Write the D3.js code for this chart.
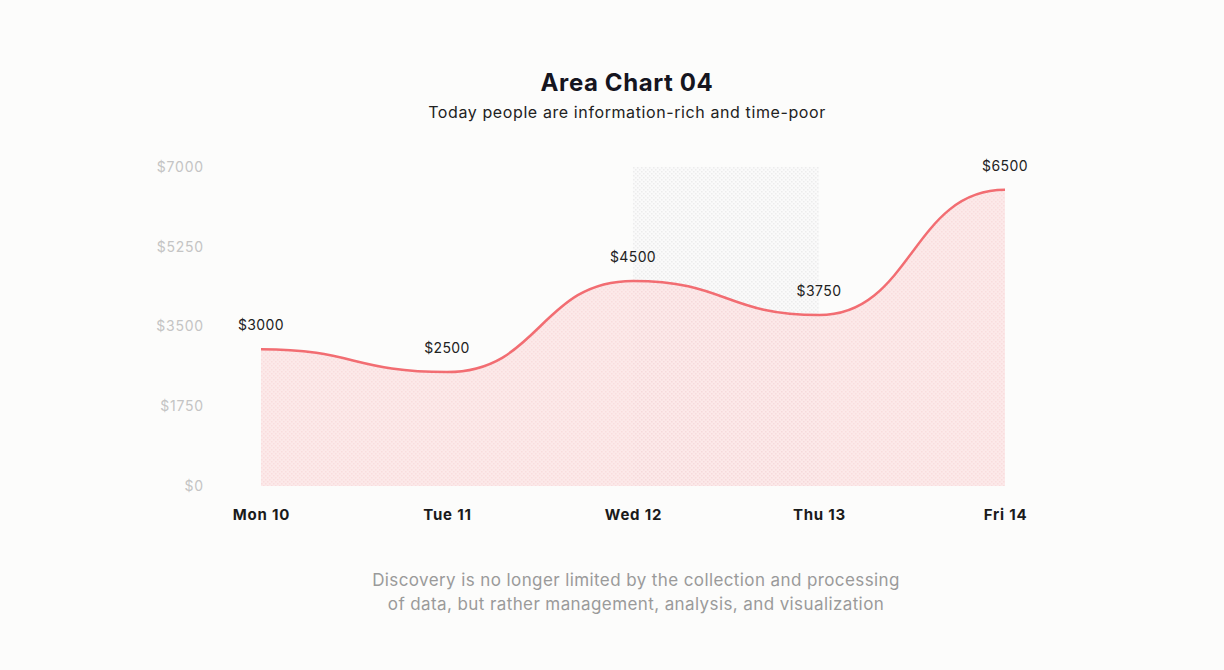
<!DOCTYPE html>
<html>
<head>
<meta charset="utf-8">
<script src="https://cdn.jsdelivr.net/npm/d3@7"></script>
<style>
  html, body { margin: 0; padding: 0; background: #fcfcfb; }
  svg { display: block; font-family: Inter, "Noto Sans", sans-serif; }
</style>
</head>
<body>
<svg width="1224" height="670"></svg>
<script>
// chart data
const days = ["Mon 10", "Tue 11", "Wed 12", "Thu 13", "Fri 14"];
const values = [3000, 2500, 4500, 3750, 6500];
const yTicks = [0, 1750, 3500, 5250, 7000];
const highlight = ["Wed 12", "Thu 13"];

const svg = d3.select("svg");
const width = +svg.attr("width");
const margin = { top: 167, right: 219, bottom: 184, left: 261 };
const innerWidth = width - margin.left - margin.right;
const innerHeight = 670 - margin.top - margin.bottom;

// patterns
const defs = svg.append("defs");
const dots = defs.append("pattern")
  .attr("id", "dots")
  .attr("width", 4).attr("height", 4)
  .attr("patternUnits", "userSpaceOnUse");
dots.append("rect").attr("width", 4).attr("height", 4).attr("fill", "#fafafa");
dots.append("rect").attr("x", 0).attr("y", 0).attr("width", 1.5).attr("height", 1.5).attr("fill", "#ececec");
dots.append("rect").attr("x", 2).attr("y", 2).attr("width", 1.5).attr("height", 1.5).attr("fill", "#ececec");

const pink = defs.append("pattern")
  .attr("id", "pinkdots")
  .attr("width", 4).attr("height", 4)
  .attr("patternUnits", "userSpaceOnUse");
pink.append("rect").attr("width", 4).attr("height", 4).attr("fill", "#fce6e6");
pink.append("rect").attr("x", 0).attr("y", 0).attr("width", 1.5).attr("height", 1.5).attr("fill", "#f8d6d8");
pink.append("rect").attr("x", 2).attr("y", 2).attr("width", 1.5).attr("height", 1.5).attr("fill", "#f8d6d8");

// title
svg.append("text")
  .attr("x", 627).attr("y", 91)
  .attr("text-anchor", "middle")
  .attr("font-size", 24).attr("font-weight", 700)
  .attr("letter-spacing", 0.6)
  .attr("fill", "#15151f")
  .text("Area Chart 04");

svg.append("text")
  .attr("x", 627).attr("y", 118)
  .attr("text-anchor", "middle")
  .attr("font-size", 16)
  .attr("letter-spacing", 0.6)
  .attr("fill", "#222")
  .text("Today people are information-rich and time-poor");

const g = svg.append("g")
  .attr("transform", `translate(${margin.left},${margin.top})`);

const x = d3.scalePoint()
  .domain(days)
  .range([0, innerWidth]);

const y = d3.scaleLinear()
  .domain([0, 7000])
  .range([innerHeight, 0]);

// highlighted band
g.append("rect")
  .attr("x", x(highlight[0]))
  .attr("y", y(7000))
  .attr("width", x(highlight[1]) - x(highlight[0]))
  .attr("height", y(0) - y(7000))
  .attr("fill", "url(#dots)");

// area
const area = d3.area()
  .x((d, i) => x(days[i]))
  .y0(y(0))
  .y1(d => y(d))
  .curve(d3.curveBumpX);

g.append("path")
  .datum(values)
  .attr("d", area)
  .attr("fill", "url(#pinkdots)")
  .attr("opacity", 0.85);

// line
const line = d3.line()
  .x((d, i) => x(days[i]))
  .y(d => y(d))
  .curve(d3.curveBumpX);

g.append("path")
  .datum(values)
  .attr("d", line)
  .attr("fill", "none")
  .attr("stroke", "#f26d72")
  .attr("stroke-width", 2.5);

// value labels
g.selectAll(".val")
  .data(values)
  .enter().append("text")
    .attr("class", "val")
    .attr("x", (d, i) => x(days[i]))
    .attr("y", d => y(d) - 19)
    .attr("text-anchor", "middle")
    .attr("font-size", 14)
    .attr("letter-spacing", 0.4)
    .attr("fill", "#222")
    .text(d => "$" + d);

// y axis
const yAxis = g.append("g")
  .call(d3.axisLeft(y).tickValues(yTicks).tickSize(0).tickPadding(57).tickFormat(d => "$" + d));
yAxis.select(".domain").remove();
yAxis.selectAll("text")
  .attr("font-size", 14)
  .attr("letter-spacing", 0.8)
  .attr("font-family", "Inter, sans-serif")
  .attr("fill", "#c4c4c4");

// x axis
const xAxis = g.append("g")
  .attr("transform", `translate(0,${innerHeight})`)
  .call(d3.axisBottom(x).tickSize(0).tickPadding(23));
xAxis.select(".domain").remove();
xAxis.selectAll("text")
  .attr("font-size", 15)
  .attr("font-weight", 700)
  .attr("letter-spacing", 0.8)
  .attr("font-family", "Inter, sans-serif")
  .attr("fill", "#1a1a1a");

// footer
const footer = [
  "Discovery is no longer limited by the collection and processing",
  "of data, but rather management, analysis, and visualization"
];
svg.selectAll(".foot")
  .data(footer)
  .enter().append("text")
    .attr("class", "foot")
    .attr("x", 636)
    .attr("y", (d, i) => 586 + i * 24)
    .attr("text-anchor", "middle")
    .attr("font-size", 17)
    .attr("letter-spacing", 0.4)
    .attr("fill", "#9a9a9a")
    .text(d => d);
</script>
</body>
</html>
